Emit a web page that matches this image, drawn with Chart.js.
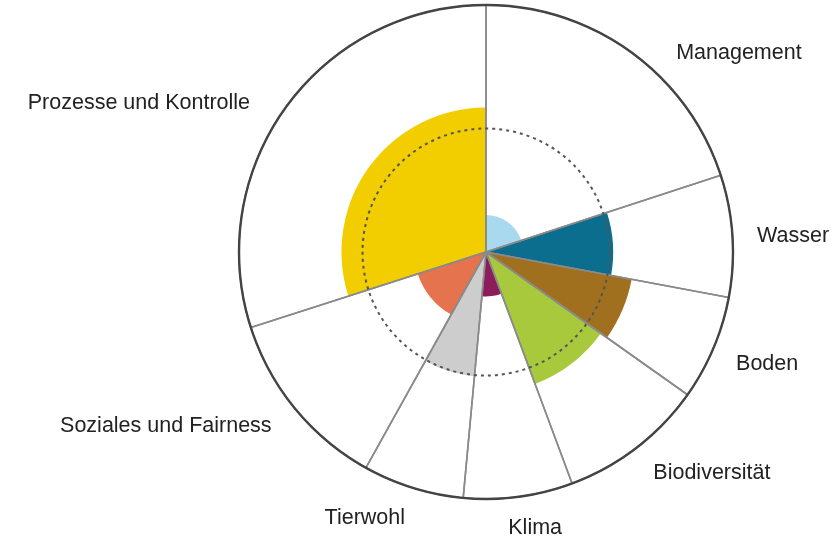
<!DOCTYPE html>
<html>
<head>
<meta charset="utf-8">
<script src="https://cdn.jsdelivr.net/npm/chart.js@4"></script>
<style>
  html, body { margin: 0; padding: 0; background: #ffffff; }
  #wrap { width: 839px; height: 539px; }
</style>
</head>
<body>
<div id="wrap"><canvas id="c" width="839" height="539"></canvas></div>
<script>
// ---- data ----
const categories = ["Management", "Wasser", "Boden", "Biodiversität", "Klima", "Tierwohl", "Soziales und Fairness", "Prozesse und Kontrolle"];
const scores = [15, 51.5, 60, 57, 18, 50.5, 29, 58.5];
const sliceAngles = [71.9, 28.7, 24.7, 34.3, 25.7, 23.8, 43.1, 107.8];
const scaleMax = 100;
const targetLevel = 50;
const colors = ["#a9d9ee", "#0b6e8e", "#a0701f", "#a9c93d", "#8c1c5c", "#cdcdcd", "#e4734e", "#f2cd00"];

// label placement (layout only): [angle in degrees clockwise from top, distance as fraction of radius]
const labelPlacement = [[51.8, 1.303], [87.0, 1.245], [111.7, 1.225], [134.4, 1.28], [169.9, 1.135], [204.5, 1.183], [241.5, 1.475], [293.2, 1.529]];

const labelPlugin = {
  id: 'sliceLabels',
  afterDraw(chart) {
    const s = chart.scales.r;
    const ctx = chart.ctx;
    ctx.save();
    ctx.font = '21.5px "Liberation Sans", Arial, sans-serif';
    ctx.fillStyle = '#222222';
    ctx.textAlign = 'center';
    ctx.textBaseline = 'middle';
    categories.forEach((name, i) => {
      const [a, f] = labelPlacement[i];
      const rad = (a - 90) * Math.PI / 180;
      const d = s.drawingArea * f;
      ctx.fillText(name, s.xCenter + Math.cos(rad) * d, s.yCenter + Math.sin(rad) * d);
    });
    ctx.restore();
  }
};

new Chart(document.getElementById('c'), {
  type: 'polarArea',
  data: {
    labels: categories,
    datasets: [
      {
        label: 'frame',
        data: categories.map(() => scaleMax),
        angle: sliceAngles,
        backgroundColor: 'rgba(0,0,0,0)',
        borderColor: '#8a8a8a',
        borderWidth: 1.6,
        hoverBackgroundColor: 'rgba(0,0,0,0)'
      },
      {
        label: 'Bewertung',
        data: scores,
        angle: sliceAngles,
        backgroundColor: colors,
        borderWidth: 0,
        hoverBackgroundColor: colors
      }
    ]
  },
  options: {
    responsive: false,
    animation: false,
    layout: { padding: { left: 239, right: 106, top: 5, bottom: 40 } },
    plugins: { legend: { display: false }, tooltip: { enabled: false } },
    scales: {
      r: {
        min: 0,
        max: scaleMax,
        startAngle: 0,
        ticks: { display: false, stepSize: targetLevel },
        pointLabels: { display: false },
        angleLines: { display: false },
        grid: {
          z: 1,
          circular: true,
          color: (ctx) => ctx.tick && ctx.tick.value === targetLevel ? '#555555' : '#444444',
          lineWidth: (ctx) => ctx.tick && ctx.tick.value === targetLevel ? 2 : 2.4
        },
        border: {
          dash: (ctx) => ctx.tick && ctx.tick.value === targetLevel ? [3, 4] : []
        }
      }
    }
  },
  plugins: [labelPlugin]
});
</script>
</body>
</html>
